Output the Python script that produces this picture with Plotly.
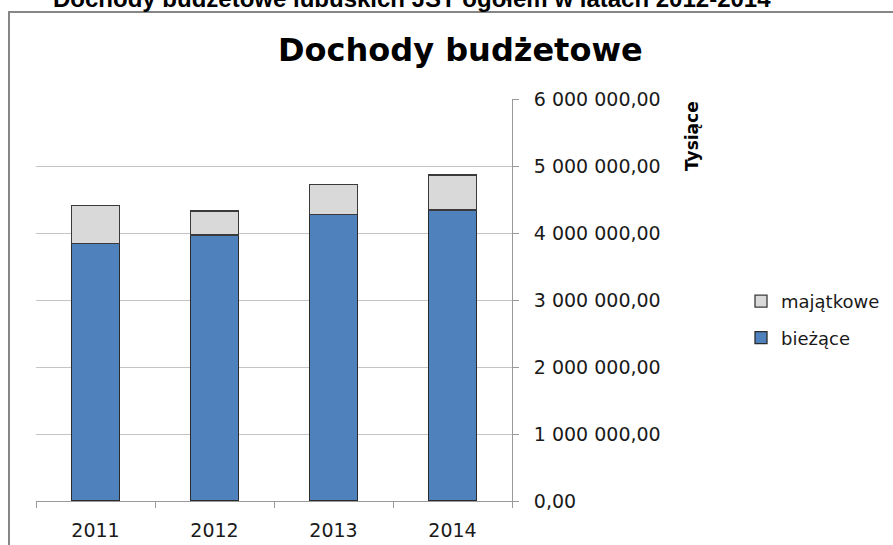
import plotly.graph_objects as go

years = ["2011", "2012", "2013", "2014"]
biezace = [3846000, 3970000, 4280000, 4345000]
majatkowe = [561000, 360000, 447000, 521000]
tick_vals = [0, 1000000, 2000000, 3000000, 4000000, 5000000, 6000000]
tick_labels = ["0,00", "1 000 000,00", "2 000 000,00", "3 000 000,00",
               "4 000 000,00", "5 000 000,00", "6 000 000,00"]

W, H = 893, 545
L, R, T, B = 36, 512, 99, 501


def px_x(p):
    return (p - L) / (R - L)


def px_y(p):
    return (B - p) / (B - T)


fig = go.Figure()
fig.add_trace(go.Bar(x=years, y=biezace, name="bieżące",
                     marker=dict(color="#4F81BD", line=dict(color="#2b2b2b", width=1.3)),
                     legendgroup="b", legendrank=2))
fig.add_trace(go.Bar(x=years, y=majatkowe, name="majątkowe",
                     marker=dict(color="#D9D9D9", line=dict(color="#3a3a3a", width=1.3)),
                     legendgroup="m", legendrank=1))

fig.update_layout(
    width=W, height=H,
    margin=dict(l=L, r=W - R, t=T, b=H - B, pad=0, autoexpand=False),
    barmode="stack", bargap=0.6,
    plot_bgcolor="white", paper_bgcolor="white",
    font=dict(family="DejaVu Sans", color="#1a1a1a"),
    showlegend=True,
    legend=dict(x=px_x(741), y=px_y(283), xanchor="left", yanchor="top",
                traceorder="grouped", tracegroupgap=10,
                font=dict(family="DejaVu Sans", size=18, color="#1a1a1a"),
                bgcolor="rgba(0,0,0,0)"),
    xaxis=dict(type="category", showline=True, linecolor="#9a9a9a", linewidth=1,
               ticks="outside", tickson="boundaries", ticklen=6, tickcolor="#9a9a9a",
               tickfont=dict(family="DejaVu Sans", size=19, color="#1a1a1a"),
               ticklabelstandoff=12, showgrid=False, automargin=False),
    yaxis=dict(side="right", range=[0, 6000000], tickvals=tick_vals, ticktext=tick_labels,
               showline=True, linecolor="#9a9a9a", linewidth=1,
               ticks="outside", ticklen=6, tickcolor="#9a9a9a",
               showgrid=True, gridcolor="#c4c4c4", gridwidth=1, zeroline=False,
               tickfont=dict(family="DejaVu Sans", size=19, color="#1a1a1a"),
               ticklabelstandoff=11, automargin=False),
    shapes=[dict(type="rect", xref="paper", yref="paper",
                 x0=px_x(9), x1=px_x(W + 20), y0=px_y(12), y1=px_y(H + 20),
                 line=dict(color="#868686", width=2), fillcolor="rgba(0,0,0,0)",
                 layer="below")],
    annotations=[
        dict(text="Dochody budżetowe lubuskich JST ogółem w latach 2012-2014",
             xref="paper", yref="paper", x=px_x(412), y=px_y(-17),
             xanchor="center", yanchor="top", showarrow=False,
             font=dict(family="Liberation Sans", size=24, color="black", weight="bold")),
        dict(text="Dochody budżetowe", xref="paper", yref="paper",
             x=px_x(460), y=px_y(50), xanchor="center", yanchor="middle", showarrow=False,
             font=dict(family="DejaVu Sans", size=32, color="black", weight="bold")),
        dict(text="Tysiące", xref="paper", yref="paper", textangle=-90,
             x=px_x(692), y=px_y(136), xanchor="center", yanchor="middle", showarrow=False,
             font=dict(family="DejaVu Sans", size=17, color="black", weight="bold")),
    ],
)

fig.write_html("out.html", config={"displayModeBar": False},
               post_script="document.body.style.margin='0';document.body.style.overflow='hidden';")
